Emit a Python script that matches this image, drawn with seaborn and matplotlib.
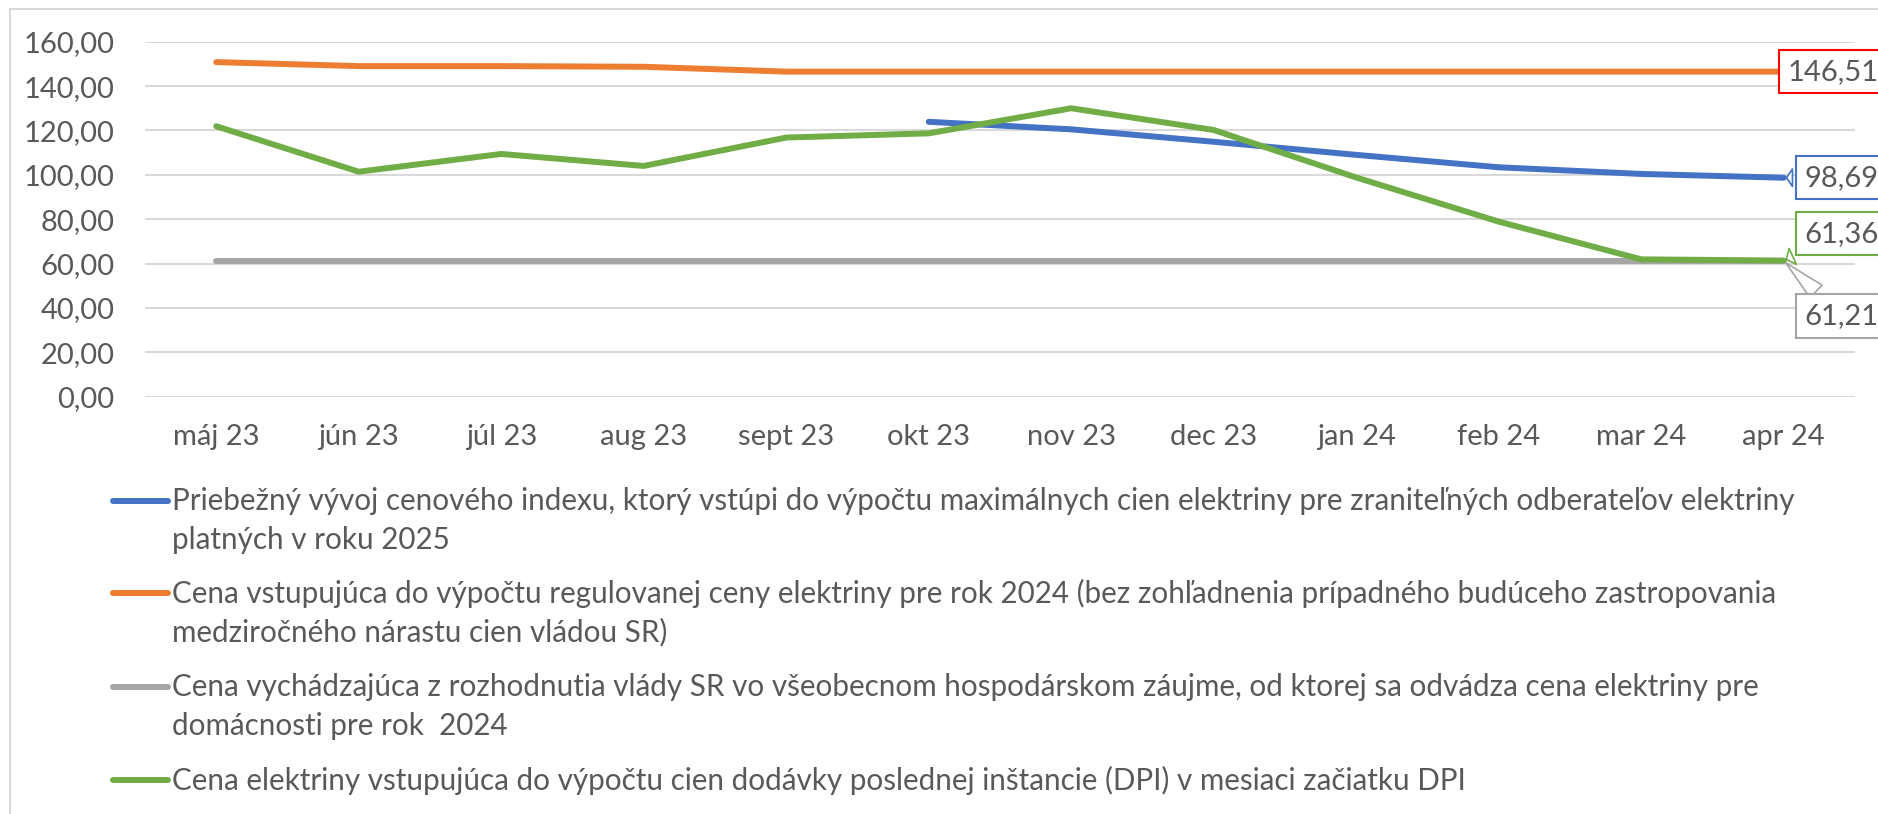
import numpy as np
import pandas as pd
import matplotlib
matplotlib.use('Agg')
import matplotlib.pyplot as plt
import seaborn as sns

# Data
mesiace = ['máj 23', 'jún 23', 'júl 23', 'aug 23', 'sept 23', 'okt 23',
           'nov 23', 'dec 23', 'jan 24', 'feb 24', 'mar 24', 'apr 24']
index_2025 = [np.nan, np.nan, np.nan, np.nan, np.nan, 123.9,
              120.5, 114.9, 109.0, 103.4, 100.4, 98.69]
cena_2024 = [150.8, 149.0, 149.0, 148.7, 146.51, 146.51,
             146.51, 146.51, 146.51, 146.51, 146.51, 146.51]
cena_vlada = [61.21] * 12
cena_dpi = [121.9, 101.4, 109.4, 104.0, 116.8, 118.7,
            130.0, 120.2, 98.8, 78.9, 61.9, 61.36]

legend_texts = [
    ["Priebežný vývoj cenového indexu, ktorý vstúpi do výpočtu maximálnych cien elektriny pre zraniteľných odberateľov elektriny",
     "platných v roku 2025"],
    ["Cena vstupujúca do výpočtu regulovanej ceny elektriny pre rok 2024 (bez zohľadnenia prípadného budúceho zastropovania",
     "medziročného nárastu cien vládou SR)"],
    ["Cena vychádzajúca z rozhodnutia vlády SR vo všeobecnom hospodárskom záujme, od ktorej sa odvádza cena elektriny pre",
     "domácnosti pre rok  2024"],
    ["Cena elektriny vstupujúca do výpočtu cien dodávky poslednej inštancie (DPI) v mesiaci začiatku DPI"],
]

series = [index_2025, cena_2024, cena_vlada, cena_dpi]
farby = ['#4472C4', '#ED7D31', '#A5A5A5', '#70AD47']
ramik = ['#4472C4', '#FF0000', '#A5A5A5', '#70AD47']

sns.set_style('white')
plt.rcParams['font.family'] = ['Lato', 'DejaVu Sans']
sivy_text = '#595959'
fs = 21
fs_leg = 21.3

W, H = 1878, 814
fig = plt.figure(figsize=(W / 100, H / 100), dpi=100)
ax = fig.add_axes([145 / W, 1 - 396.7 / H, (1855 - 145) / W, (396.7 - 41.7) / H])

x = np.arange(len(mesiace))
for hodnoty, farba in zip(series, farby):
    df = pd.DataFrame({'x': x, 'y': hodnoty}).dropna()
    sns.lineplot(data=df, x='x', y='y', color=farba, lw=4.3, ax=ax,
                 solid_capstyle='round', solid_joinstyle='round')

ax.set_xlim(-0.5, len(mesiace) - 0.5)
ax.set_ylim(0, 160)
ax.set_yticks(np.arange(0, 161, 20))
ax.set_yticklabels([f'{v:.2f}'.replace('.', ',') for v in np.arange(0, 161, 20)])
ax.set_xticks(x)
ax.set_xticklabels(mesiace)
ax.tick_params(axis='both', length=0, labelsize=fs, colors=sivy_text)
ax.tick_params(axis='y', pad=22)
ax.tick_params(axis='x', pad=20)
ax.set_xlabel('')
ax.set_ylabel('')
ax.grid(axis='y', color='#D9D9D9', lw=1.5)
ax.set_axisbelow(True)
for s in ax.spines.values():
    s.set_visible(False)

# popisky hodnôt na konci radov (posun v pixeloch)
posuny = [(21, 0), (4, 0), (21, -55), (21, 27)]
for i in [1, 0, 2, 3]:
    hodnoty = series[i]
    v = hodnoty[-1]
    dx, dy = posuny[i]
    txt = f'{v:.2f}'.replace('.', ',')
    if i == 1:
        ax.annotate(txt, xy=(x[-1], v), xytext=(dx, dy), textcoords='offset pixels',
                    ha='left', va='center', fontsize=fs, color=sivy_text,
                    bbox=dict(boxstyle='square,pad=0.3', fc='white', ec=ramik[i], lw=1.5),
                    annotation_clip=False)
    else:
        ax.annotate(txt, xy=(x[-1], v), xytext=(dx, dy), textcoords='offset pixels',
                    ha='left', va='center', fontsize=fs, color=sivy_text,
                    bbox=dict(boxstyle='square,pad=0.3', fc='white', ec=ramik[i], lw=1.5),
                    arrowprops=dict(arrowstyle='wedge,tail_width=0.6,shrink_factor=0.5',
                                    fc='white', ec=ramik[i], lw=1.2),
                    annotation_clip=False)

# legenda pod grafom
y_start = [500.7, 593, 686.7, 780]
for i, riadky in enumerate(legend_texts):
    y0 = y_start[i]
    fig.add_artist(plt.Line2D([113 / W, 168 / W], [1 - y0 / H, 1 - y0 / H],
                              color=farby[i], lw=4.3, solid_capstyle='round',
                              transform=fig.transFigure))
    for j, riadok in enumerate(riadky):
        fig.text(172 / W, 1 - (y0 + j * 39.5) / H, riadok, fontsize=fs_leg,
                 color=sivy_text, ha='left', va='center')

# rámik grafu
fig.add_artist(plt.Rectangle((10 / W, -0.1), 1.2, 1.1 - 9 / H, fill=False,
                             ec='#D9D9D9', lw=1.5, transform=fig.transFigure))

fig.savefig('out.png', dpi=100, facecolor='white')
